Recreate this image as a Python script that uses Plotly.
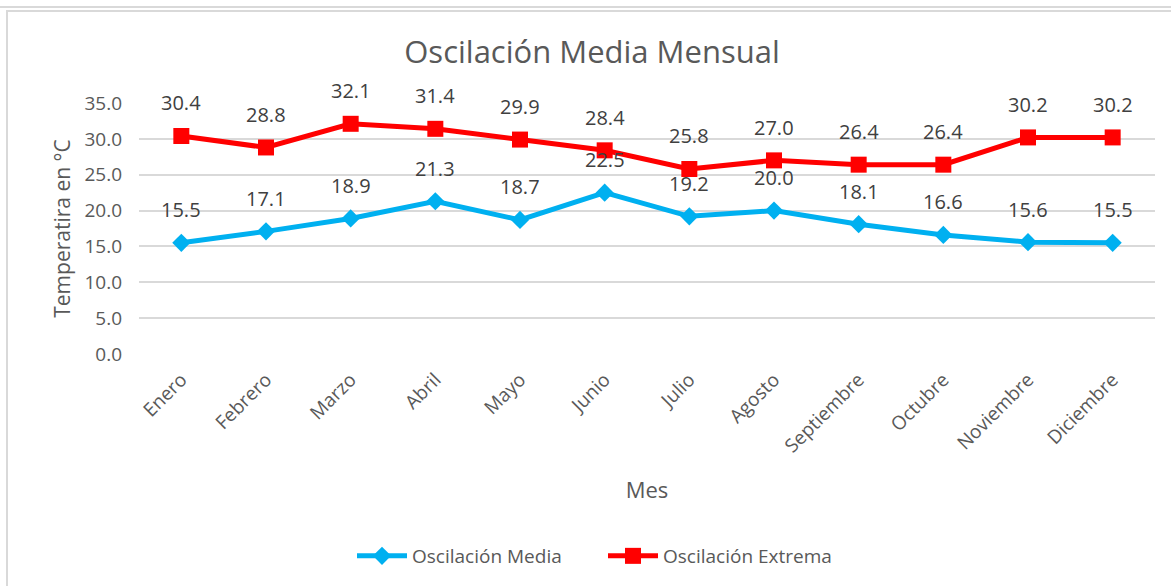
import plotly.graph_objects as go

meses = ["Enero", "Febrero", "Marzo", "Abril", "Mayo", "Junio", "Julio",
         "Agosto", "Septiembre", "Octubre", "Noviembre", "Diciembre"]
osc_media = [15.5, 17.1, 18.9, 21.3, 18.7, 22.5, 19.2, 20.0, 18.1, 16.6, 15.6, 15.5]
osc_extrema = [30.4, 28.8, 32.1, 31.4, 29.9, 28.4, 25.8, 27.0, 26.4, 26.4, 30.2, 30.2]
y_ticks = [0, 5, 10, 15, 20, 25, 30, 35]

FONT = "Open Sans"
W, H = 1171, 586
L, R, T, B = 139, 16, 103, 232
pw, ph = W - L - R, H - T - B

def px(x):
    return (x - L) / pw

def py(y):
    return (H - B - y) / ph

fig = go.Figure()
fig.add_trace(go.Scatter(
    x=meses, y=osc_media, name="Oscilación Media", mode="lines+markers",
    line=dict(color="#00B0F0", width=5),
    marker=dict(symbol="diamond", size=14, color="#00B0F0"),
))
fig.add_trace(go.Scatter(
    x=meses, y=osc_extrema, name="Oscilación Extrema", mode="lines+markers",
    line=dict(color="#FF0000", width=5),
    marker=dict(symbol="square", size=16, color="#FF0000"),
))

annotations = []
for series in (osc_media, osc_extrema):
    for m, v in zip(meses, series):
        annotations.append(dict(
            x=m, y=v, xref="x", yref="y", text=f"{v:.1f}", showarrow=False,
            yshift=33, font=dict(family=FONT, size=20, color="#404040"),
        ))

shapes = [
    dict(type="line", xref="paper", yref="paper", x0=px(0), x1=px(W), y0=py(7), y1=py(7),
         line=dict(color="#d9d9d9", width=2)),
    dict(type="line", xref="paper", yref="paper", x0=px(6), x1=px(W), y0=py(11), y1=py(11),
         line=dict(color="#d9d9d9", width=2)),
    dict(type="line", xref="paper", yref="paper", x0=px(7), x1=px(7), y0=py(11), y1=py(H),
         line=dict(color="#d9d9d9", width=2)),
]

fig.update_layout(
    width=W, height=H,
    margin=dict(l=L, r=R, t=T, b=B, autoexpand=False),
    paper_bgcolor="white", plot_bgcolor="white",
    font=dict(family=FONT, color="#595959"),
    title=dict(text="Oscilación Media Mensual", x=592 / W, xref="container", xanchor="center",
               y=1 - 52 / H, yref="container", yanchor="middle",
               font=dict(family=FONT, size=31, color="#595959")),
    xaxis=dict(
        range=[-0.5, len(meses) - 0.5],
        showgrid=False, showline=False, zeroline=False, automargin=False,
        tickangle=-45, tickfont=dict(family=FONT, size=19, color="#595959"),
        ticklabelstandoff=10,
        title=dict(text="Mes", font=dict(family=FONT, size=22, color="#595959"), standoff=25),
    ),
    yaxis=dict(
        range=[0, 35], tickvals=y_ticks, tickformat=".1f", automargin=False,
        showgrid=True, gridcolor="#d9d9d9", gridwidth=1.5,
        showline=False, zeroline=False,
        tickfont=dict(family=FONT, size=19, color="#595959"),
        ticklabelstandoff=16,
        title=dict(text="Temperatira en °C", font=dict(family=FONT, size=21, color="#595959"), standoff=8),
    ),
    legend=dict(orientation="h", x=px(352), xanchor="left", y=py(556), yanchor="middle",
                font=dict(family=FONT, size=19, color="#595959"), itemwidth=50,
                entrywidth=186, entrywidthmode="pixels"),
    annotations=annotations,
    shapes=shapes,
)

fig.write_html("out.html", config={"displayModeBar": False},
               post_script="document.body.style.margin='0';")
